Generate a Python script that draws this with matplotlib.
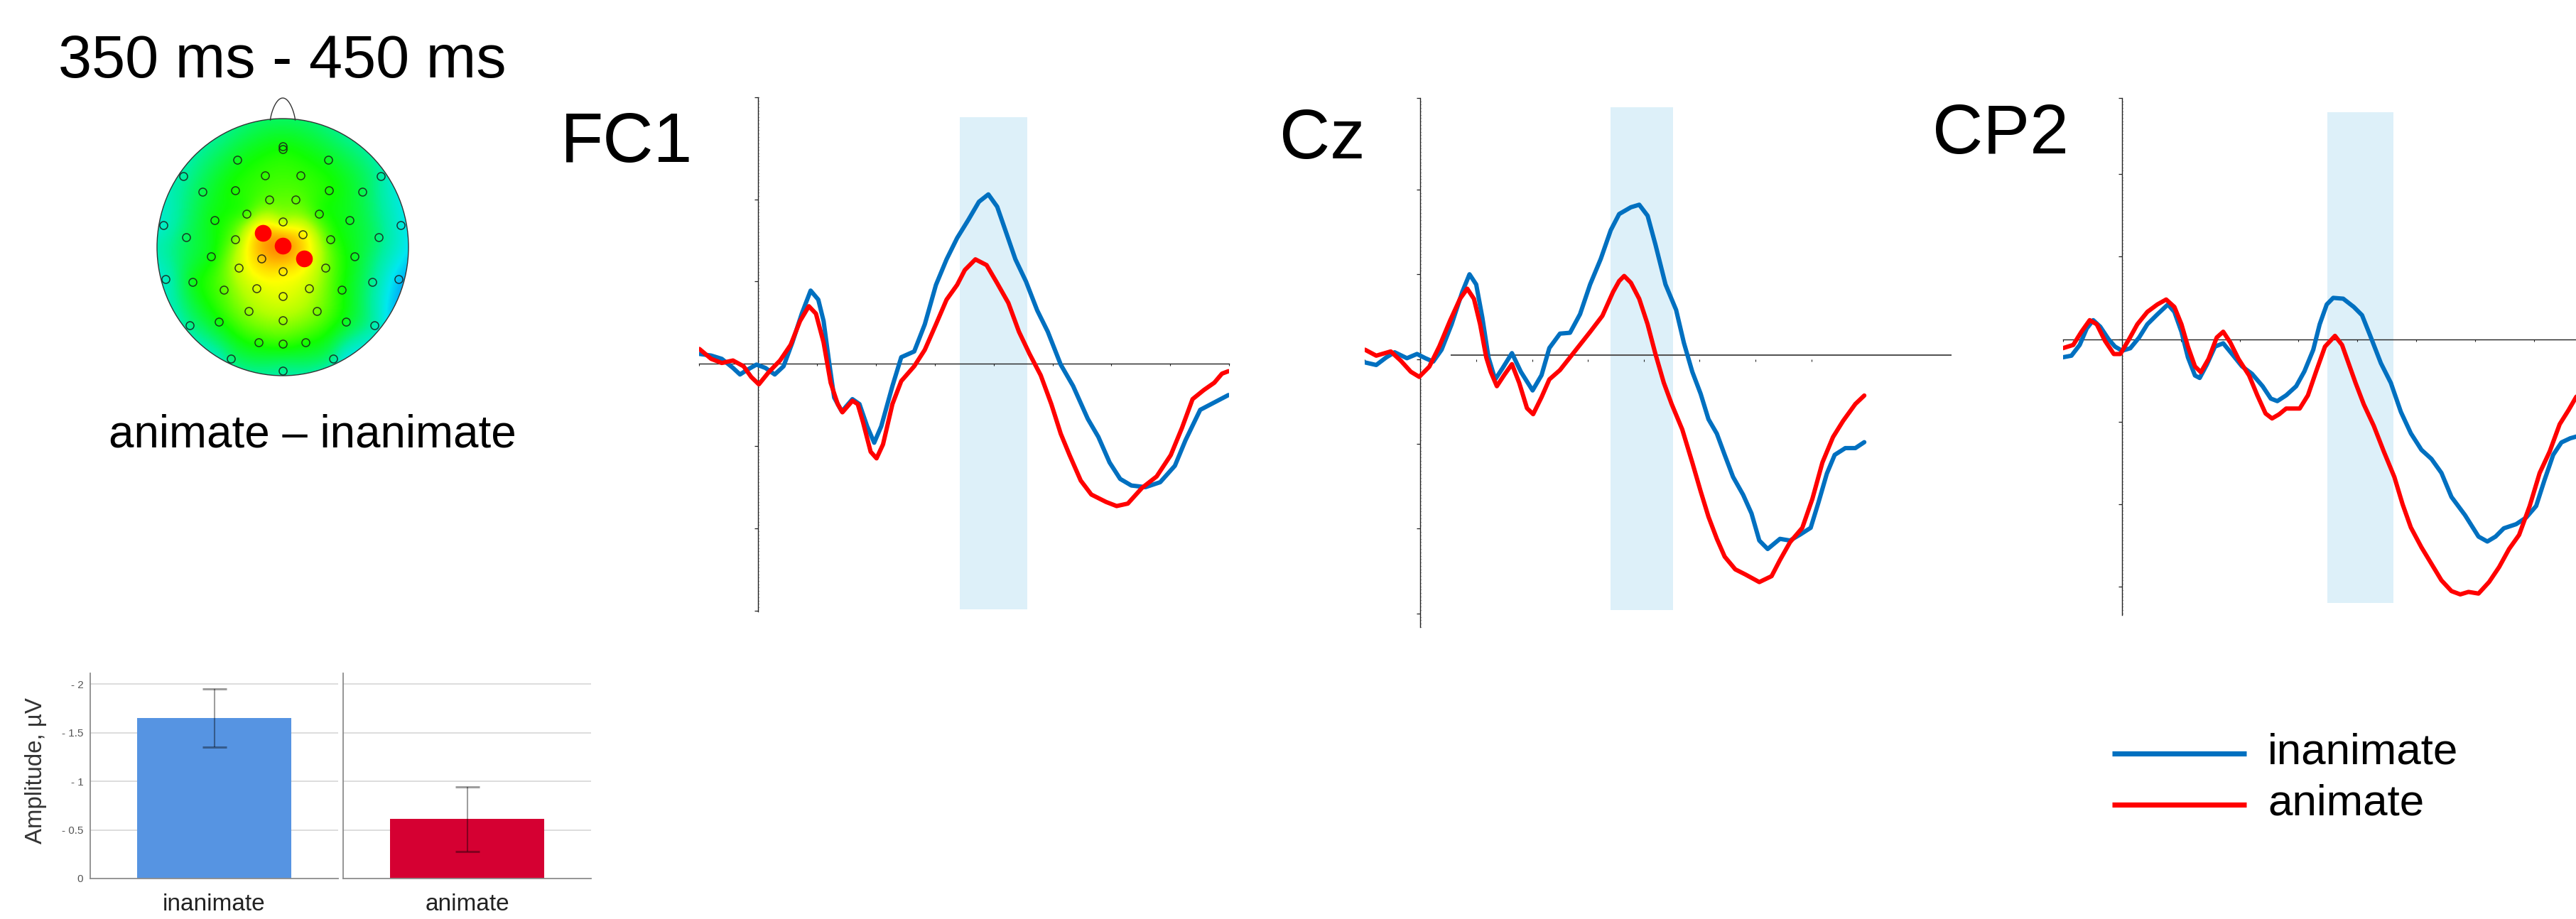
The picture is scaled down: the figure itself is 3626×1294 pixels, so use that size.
import numpy as np
import matplotlib.pyplot as plt
from matplotlib.colors import LinearSegmentedColormap
from matplotlib.patches import Ellipse
from matplotlib.ticker import MultipleLocator

plt.rcParams['font.family'] = ['Liberation Sans', 'DejaVu Sans']

W, H = 3626, 1294

# ---------------- data ----------------
# waveforms: time in ms, amplitude in units of one y tick
fc1_inan_t = [-100, -80, -62, -43, -31, -18, -3, 12, 28, 43, 58, 74, 89, 102, 111, 120, 129, 142, 160, 172,
              185, 197, 209, 228, 243, 265, 283, 302, 320, 338, 357, 375, 391, 406, 422, 437, 455, 474, 492,
              514, 535, 560, 578, 597, 615, 634, 658, 683, 708, 726, 751, 775, 799]
fc1_inan_v = [0.12, 0.10, 0.06, -0.05, -0.13, -0.07, -0.01, -0.05, -0.13, -0.03, 0.26, 0.61, 0.89, 0.78, 0.52,
              0.04, -0.41, -0.58, -0.43, -0.49, -0.76, -0.96, -0.76, -0.27, 0.08, 0.15, 0.48, 0.96, 1.27, 1.53,
              1.75, 1.97, 2.06, 1.91, 1.58, 1.27, 1.00, 0.65, 0.39, -0.01, -0.27, -0.67, -0.89, -1.20, -1.40,
              -1.48, -1.50, -1.44, -1.24, -0.93, -0.56, -0.47, -0.38]
fc1_anim_t = [-100, -80, -62, -43, -25, -12, 1, 18, 37, 55, 71, 86, 98, 111, 123, 135, 143, 160, 169, 178,
              191, 201, 212, 228, 243, 265, 283, 302, 320, 338, 351, 369, 388, 406, 425, 443, 461, 480, 498,
              514, 529, 548, 566, 591, 609, 628, 652, 677, 701, 720, 738, 757, 775, 788, 799]
fc1_anim_v = [0.18, 0.06, 0.01, 0.04, -0.03, -0.16, -0.25, -0.10, 0.04, 0.23, 0.52, 0.70, 0.61, 0.26, -0.23,
              -0.49, -0.59, -0.45, -0.49, -0.71, -1.07, -1.15, -0.98, -0.49, -0.21, -0.03, 0.17, 0.48, 0.78,
              0.96, 1.14, 1.27, 1.20, 0.98, 0.74, 0.39, 0.12, -0.14, -0.49, -0.85, -1.11, -1.42, -1.59, -1.68,
              -1.73, -1.70, -1.51, -1.37, -1.11, -0.78, -0.43, -0.32, -0.23, -0.12, -0.09]

cz_inan_t = [-99, -79, -61, -46, -24, -6, 9, 23, 38, 56, 75, 88, 100, 111, 122, 134, 147, 164, 180, 201, 217,
             231, 250, 268, 286, 304, 323, 341, 356, 377, 392, 407, 421, 439, 458, 472, 487, 502, 516, 531,
             545, 560, 578, 593, 607, 622, 644, 662, 680, 699, 713, 728, 742, 761, 779, 795]
cz_inan_v = [-0.04, -0.07, 0.02, 0.08, 0.01, 0.06, 0.01, -0.03, 0.11, 0.41, 0.79, 1.00, 0.88, 0.49, 0.02,
             -0.24, -0.11, 0.07, -0.15, -0.37, -0.19, 0.13, 0.30, 0.31, 0.53, 0.88, 1.18, 1.52, 1.71, 1.79,
             1.82, 1.69, 1.35, 0.88, 0.58, 0.19, -0.15, -0.41, -0.71, -0.88, -1.13, -1.39, -1.60, -1.82,
             -2.14, -2.24, -2.12, -2.14, -2.07, -1.99, -1.69, -1.35, -1.13, -1.05, -1.05, -0.98]
cz_anim_t = [-99, -79, -53, -35, -17, -2, 16, 34, 53, 71, 84, 96, 107, 118, 126, 137, 150, 164, 177, 191, 202,
             217, 231, 250, 268, 286, 304, 326, 345, 356, 365, 377, 392, 407, 421, 436, 450, 469, 487, 502,
             516, 531, 545, 564, 582, 607, 629, 644, 662, 684, 702, 720, 739, 757, 779, 795]
cz_anim_v = [0.11, 0.04, 0.09, -0.02, -0.15, -0.21, -0.09, 0.15, 0.45, 0.71, 0.83, 0.71, 0.41, 0.02, -0.15,
             -0.32, -0.19, -0.06, -0.28, -0.58, -0.65, -0.45, -0.24, -0.13, 0.02, 0.17, 0.32, 0.51, 0.79,
             0.92, 0.98, 0.90, 0.71, 0.41, 0.06, -0.28, -0.53, -0.83, -1.22, -1.56, -1.86, -2.12, -2.33,
             -2.48, -2.54, -2.63, -2.56, -2.37, -2.16, -1.99, -1.65, -1.22, -0.92, -0.73, -0.53, -0.43]

cp2_inan_t = [-101, -86, -72, -60, -49, -37, -23, -12, 0, 14, 29, 43, 60, 78, 89, 101, 112, 124, 132, 144,
              158, 172, 187, 204, 221, 239, 253, 264, 279, 296, 310, 325, 336, 348, 359, 376, 394, 408, 422,
              440, 457, 474, 491, 509, 526, 543, 560, 583, 606, 621, 635, 649, 670, 687, 704, 718, 733, 747,
              762, 772, 800]
cp2_inan_v = [-0.22, -0.20, -0.07, 0.13, 0.23, 0.15, 0.00, -0.09, -0.14, -0.11, 0.02, 0.18, 0.30, 0.42, 0.33,
              0.09, -0.22, -0.44, -0.47, -0.31, -0.09, -0.05, -0.18, -0.33, -0.42, -0.57, -0.72, -0.75,
              -0.68, -0.57, -0.39, -0.13, 0.18, 0.42, 0.50, 0.49, 0.39, 0.29, 0.04, -0.29, -0.53, -0.88,
              -1.14, -1.34, -1.45, -1.62, -1.91, -2.13, -2.39, -2.45, -2.39, -2.29, -2.24, -2.16, -2.02,
              -1.71, -1.40, -1.25, -1.20, -1.18, -1.12]
cp2_anim_t = [-101, -83, -69, -55, -43, -29, -14, -3, 12, 26, 43, 60, 75, 89, 101, 112, 124, 134, 147, 161,
              172, 184, 198, 216, 230, 244, 255, 267, 279, 302, 316, 330, 345, 362, 374, 385, 397, 411, 428,
              445, 463, 477, 491, 509, 526, 543, 560, 575, 589, 606, 624, 641, 658, 675, 693, 710, 727, 744,
              759, 772, 800]
cp2_anim_v = [-0.11, -0.07, 0.09, 0.23, 0.18, -0.02, -0.18, -0.18, 0.00, 0.18, 0.33, 0.42, 0.48, 0.39, 0.18,
              -0.09, -0.33, -0.40, -0.24, 0.02, 0.09, -0.04, -0.24, -0.44, -0.68, -0.90, -0.96, -0.91, -0.84,
              -0.84, -0.68, -0.39, -0.09, 0.04, -0.07, -0.29, -0.53, -0.79, -1.05, -1.36, -1.67, -2.00,
              -2.28, -2.52, -2.72, -2.92, -3.05, -3.09, -3.06, -3.08, -2.94, -2.76, -2.54, -2.37, -2.02,
              -1.62, -1.36, -1.03, -0.86, -0.70, -0.50]

channels = ['FC1', 'Cz', 'CP2']
window_start = [343, 341, 349]
window_end = [457, 453, 461]
window_low = [-2.99, -2.96, -3.19]
window_high = [3.0, 2.97, 2.75]
conditions = ['inanimate', 'animate']

# bar chart
bar_categories = ['inanimate', 'animate']
bar_means = [1.65, 0.61]
bar_errors = [0.30, 0.33]
bar_ticks = [0, 0.5, 1, 1.5, 2]
bar_tick_labels = ['0', '- 0.5', '- 1', '- 1.5', '- 2']

# topography: electrode positions (head units, y downward) and map values
site_x = [0.00, -0.36, 0.36, -0.79, 0.78, -0.14, 0.14, -0.64, -0.38, 0.37, 0.63, -0.11, 0.10, -0.54, -0.29,
          0.29, 0.53, 0.00, -0.95, 0.94, -0.77, -0.38, 0.16, 0.38, 0.76, -0.57, -0.17, 0.57, -0.35, 0.34,
          0.00, -0.93, 0.92, -0.72, -0.47, -0.21, 0.21, 0.47, 0.71, 0.00, -0.27, 0.27, -0.74, -0.51, 0.00,
          0.50, 0.73, -0.19, 0.00, 0.18, -0.41, 0.40, 0.00, -0.16, 0.00, 0.17]
site_y = [-0.76, -0.68, -0.68, -0.55, -0.55, -0.56, -0.56, -0.43, -0.44, -0.44, -0.43, -0.37, -0.37, -0.21,
          -0.26, -0.26, -0.21, -0.20, -0.17, -0.17, -0.08, -0.06, -0.10, -0.06, -0.08, 0.07, 0.09, 0.07,
          0.16, 0.16, 0.19, 0.25, 0.25, 0.27, 0.33, 0.32, 0.32, 0.33, 0.27, 0.38, 0.50, 0.50, 0.61, 0.58,
          0.57, 0.58, 0.61, 0.74, 0.75, 0.74, 0.87, 0.87, 0.96, -0.11, -0.01, 0.09]
site_val = [0.45, 0.42, 0.42, 0.30, 0.30, 0.48, 0.48, 0.38, 0.46, 0.46, 0.38, 0.52, 0.52, 0.44, 0.50,
            0.48, 0.42, 0.62, 0.25, 0.22, 0.36, 0.55, 0.72, 0.50, 0.34, 0.44, 0.80, 0.42, 0.63, 0.56,
            0.74, 0.26, 0.14, 0.42, 0.52, 0.65, 0.62, 0.46, 0.32, 0.66, 0.57, 0.55, 0.32, 0.44, 0.58,
            0.42, 0.28, 0.47, 0.48, 0.46, 0.34, 0.32, 0.32, 0.80, 0.90, 0.74]
selected_sites = [53, 54, 55]
rim_angle = [0, 30, 60, 90, 120, 150, 180, 210, 240, 270, 300, 330]
rim_val = [0.18, 0.14, 0.22, 0.30, 0.28, 0.28, 0.27, 0.28, 0.32, 0.36, 0.32, 0.24]

# ---------------- figure ----------------
fig = plt.figure(figsize=(W / 100, H / 100), dpi=100)


def px_axes(x0, y0, x1, y1):
    return fig.add_axes([x0 / W, 1 - y1 / H, (x1 - x0) / W, (y1 - y0) / H])


ov = px_axes(0, 0, W, H)
ov.set_xlim(0, W)
ov.set_ylim(H, 0)
ov.axis('off')

blue = '#0070c0'
red = '#ff0000'

# ---- topomap ----
cx, cy, rx, ry = 398, 348, 177, 181
tax = px_axes(200, 110, 600, 560)
tax.set_xlim(200, 600)
tax.set_ylim(560, 110)
tax.axis('off')

rim_a = np.deg2rad(rim_angle)
pts = np.column_stack([np.array(site_x[:53] + list(np.cos(rim_a))),
                       np.array(site_y[:53] + list(np.sin(rim_a)))])
pts = np.vstack([pts, np.column_stack([site_x[53:], site_y[53:]])])
vals = np.array(site_val[:53] + rim_val + site_val[53:])


def phi(r):
    return np.where(r > 0, r ** 2 * np.log(np.maximum(r, 1e-12)), 0.0)


n = len(pts)
M = np.zeros((n + 3, n + 3))
M[:n, :n] = phi(np.linalg.norm(pts[:, None] - pts[None], axis=2))
P = np.hstack([np.ones((n, 1)), pts])
M[:n, n:] = P
M[n:, :n] = P.T
coef = np.linalg.solve(M, np.concatenate([vals, np.zeros(3)]))

gx, gy = np.meshgrid(np.linspace(-1, 1, 260), np.linspace(-1, 1, 260))
g = np.column_stack([gx.ravel(), gy.ravel()])
z = phi(np.linalg.norm(g[:, None] - pts[None], axis=2)) @ coef[:n] + coef[n] + g @ coef[n + 1:]
z = np.clip(z.reshape(gx.shape), 0, 1)
z[gx ** 2 + gy ** 2 > 1.02] = np.nan

topo_cmap = LinearSegmentedColormap.from_list('topo', [
    (0.0, '#0070ff'), (0.18, '#00e8f0'), (0.3, '#00f0a0'), (0.45, '#10ff00'),
    (0.6, '#b4ff00'), (0.7, '#ffff00'), (0.85, '#ffa800'), (1.0, '#ff5000')])
im = tax.imshow(z, extent=(cx - rx, cx + rx, cy + ry, cy - ry), origin='upper',
                cmap=topo_cmap, vmin=0, vmax=1, aspect='auto', interpolation='bilinear')
head = Ellipse((cx, cy), 2 * rx, 2 * ry, fill=False, ec='#333333', lw=1.0, zorder=3)
tax.add_patch(head)
clip = Ellipse((cx, cy), 2 * rx, 2 * ry, transform=tax.transData)
im.set_clip_path(clip)
tt = np.linspace(0, np.pi, 60)
tax.plot(cx + 17.5 * np.cos(tt), cy - ry + 2 - 31 * np.sin(tt) * np.sqrt(np.sin(tt) + 0.0001),
         color='#333333', lw=1.0)

ex = cx + rx * np.array(site_x)
ey = cy + ry * np.array(site_y)
tax.plot(ex[:53], ey[:53], 'o', ms=8, mfc='none', mec='#1a1a1a', mew=1.1, alpha=0.85, zorder=4)
tax.plot(ex[0], ey[0] - 4, 'o', ms=8, mfc='none', mec='#1a1a1a', mew=1.1, alpha=0.85, zorder=4)
tax.plot(ex[selected_sites], ey[selected_sites], 'o', ms=17, color=red, mec='none', zorder=5)

ov.text(397, 109, '350 ms - 450 ms', fontsize=61, ha='center', va='baseline')
ov.text(440, 630, 'animate \u2013 inanimate', fontsize=45.8, ha='center', va='baseline')

# ---- waveforms ----
panels = [
    dict(x0=984.5, x1=1730.0, y0=136.7, y1=861.0, xlim=(-100, 800), ylim=(-3.012, 3.243),
         label_x=789, label_y=228, axis=True),
    dict(x0=1920.7, x1=2746.8, y0=138.3, y1=883.0, xlim=(-100, 951), ylim=(-3.161, 3.076),
         label_x=1801, label_y=223, axis=False),
    dict(x0=2904.2, x1=3649.4, y0=138.3, y1=866.0, xlim=(-100, 800), ylim=(-3.34, 2.917),
         label_x=2720, label_y=216, axis=True),
]
series = [(fc1_inan_t, fc1_inan_v, fc1_anim_t, fc1_anim_v),
          (cz_inan_t, cz_inan_v, cz_anim_t, cz_anim_v),
          (cp2_inan_t, cp2_inan_v, cp2_anim_t, cp2_anim_v)]

for i, p in enumerate(panels):
    ax = px_axes(p['x0'], p['y0'], p['x1'], p['y1'])
    ax.set_xlim(*p['xlim'])
    ax.set_ylim(*p['ylim'])
    ax.patch.set_visible(False)
    for s in ['top', 'right']:
        ax.spines[s].set_visible(False)
    ax.spines['left'].set_position(('data', 0))
    ax.spines['bottom'].set_position(('data', 0))
    ax.spines['left'].set_color('#222222')
    ax.spines['bottom'].set_color('#222222')
    ax.spines['left'].set_linewidth(1.0)
    ax.spines['bottom'].set_linewidth(1.0)
    if not p['axis']:
        ax.spines['bottom'].set_visible(False)
        ax.plot([55, 951], [0.05, 0.05], color='#555555', lw=1.5, zorder=1)
        ax.set_xticks(range(-100, 701, 100))
    else:
        ax.set_xticks(range(-100, 801, 100))
    ax.set_yticks([-3, -2, -1, 0, 1, 2, p['ylim'][1]])
    ax.yaxis.set_minor_locator(MultipleLocator(0.04))
    ax.tick_params(which='major', direction='out', length=3.5, width=0.9, color='#222222',
                   labelleft=False, labelbottom=False)
    ax.tick_params(axis='x', which='major', length=2.5, width=0.8)
    ax.tick_params(axis='y', which='minor', direction='in', length=1.4, width=0.5, color='#999999')
    ax.tick_params(axis='x', which='minor', length=0)

    ax.fill_between([window_start[i], window_end[i]], window_low[i], window_high[i],
                    color='#ddf0f9', lw=0, zorder=0)
    ti, vi, ta, va = series[i]
    ax.plot(ti, vi, color=blue, lw=4.4, zorder=3, solid_joinstyle='round', solid_capstyle='round')
    ax.plot(ta, va, color=red, lw=4.4, zorder=4, solid_joinstyle='round', solid_capstyle='round')
    ov.text(p['label_x'], p['label_y'], channels[i], fontsize=71, ha='left', va='baseline')

# legend
for yb, c, name in [(1061, blue, conditions[0]), (1133, red, conditions[1])]:
    ov.plot([2973, 3162], [yb, yb], color=c, lw=5.2, solid_capstyle='butt')
    ov.text(3192, yb + 14, name, fontsize=44.6, ha='left', va='baseline')

# ---- bar chart ----
bar_colors = ['#5694e2', '#d50032']
bar_boxes = [(127, 476), (483, 832)]
for i, (bx0, bx1) in enumerate(bar_boxes):
    bx = px_axes(bx0, 948, bx1, 1237)
    bx.set_xlim(0, 1)
    bx.set_ylim(0, 2.11)
    for s in ['top', 'right']:
        bx.spines[s].set_visible(False)
    for s in ['left', 'bottom']:
        bx.spines[s].set_color('#8c8c8c')
        bx.spines[s].set_linewidth(1.3)
    for yv in bar_ticks[1:]:
        bx.axhline(yv, color='#dadada', lw=1.3, zorder=0)
    bx.bar([0.5], [bar_means[i]], width=0.62, color=bar_colors[i], zorder=2)
    bx.errorbar([0.5], [bar_means[i]], yerr=[bar_errors[i]], fmt='none', ecolor=(0, 0, 0, 0.38),
                elinewidth=1.5, capsize=12, capthick=2.2, zorder=3)
    bx.set_xticks([0.5])
    bx.set_xticklabels([bar_categories[i]], fontsize=24, color='#222222')
    bx.tick_params(axis='x', length=0, pad=15)
    bx.set_yticks(bar_ticks)
    if i == 0:
        bx.set_yticklabels(bar_tick_labels, fontsize=11, color='#555555')
        bx.tick_params(axis='y', length=0, pad=7)
    else:
        bx.tick_params(axis='y', length=0, labelleft=False)

ov.text(50, 1085, 'Amplitude, \u00b5V', fontsize=23.8, rotation=90, ha='center', va='center',
        color='#333333')

fig.savefig('out.png', dpi=100)
